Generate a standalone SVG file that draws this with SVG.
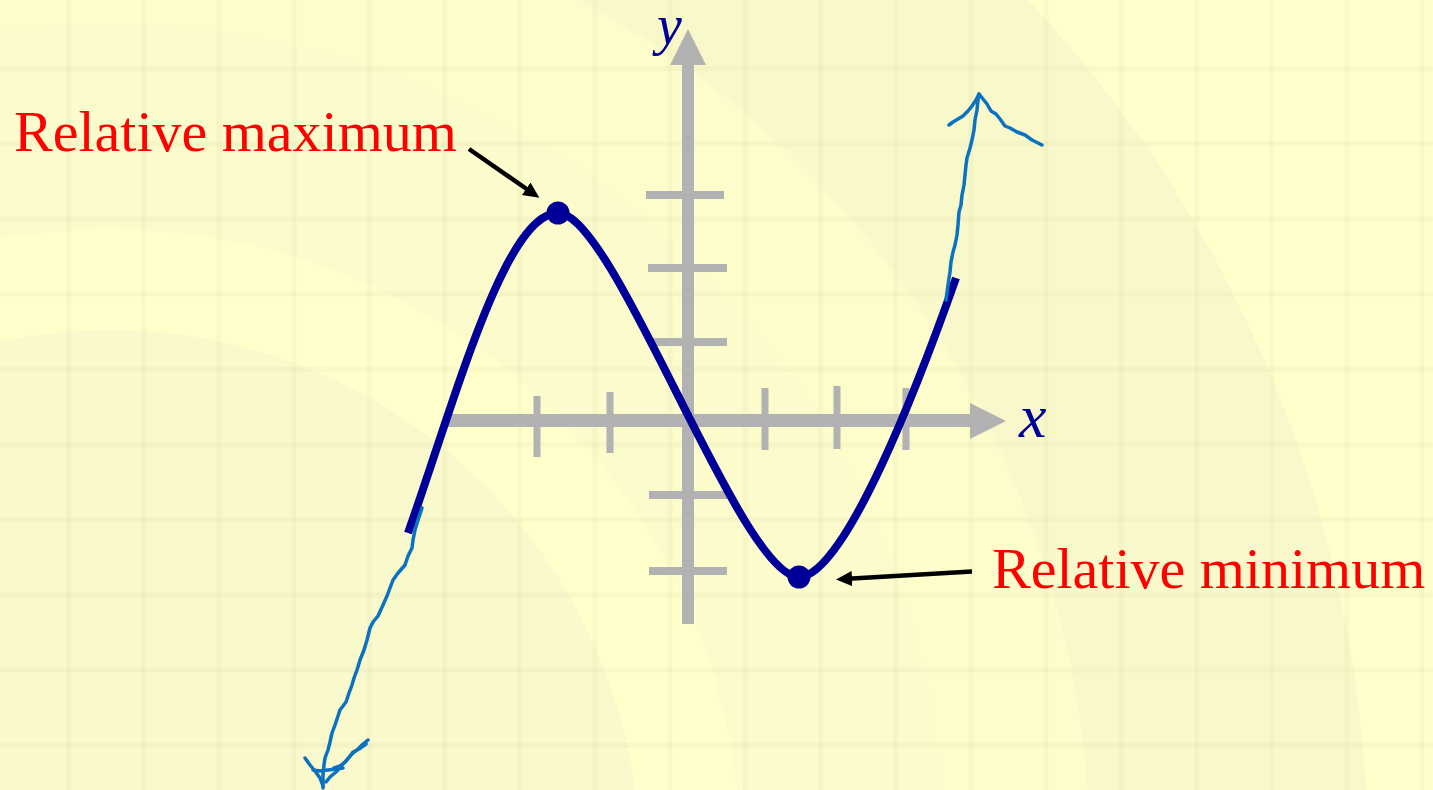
<svg xmlns="http://www.w3.org/2000/svg" width="1433" height="790" viewBox="0 0 1433 790">
  <style>
    .grid { stroke: #d8d3a0; stroke-opacity: 0.14; stroke-width: 5; fill: none; }
    .axis { fill: #b2b2b2; }
    .curve { fill: none; stroke: #000099; stroke-width: 8; stroke-linecap: butt; stroke-linejoin: round; }
    .dot { fill: #000099; }
    .label { font-family: "Liberation Serif", "Times New Roman", serif; font-size: 58px; fill: #ff0000; }
    .var { font-family: "Liberation Serif", "Times New Roman", serif; font-style: italic; fill: #000099; }
    .conn { fill: none; stroke: #000000; stroke-width: 4.5; }
    .ink { fill: none; stroke: #0a72c0; stroke-width: 3.5; stroke-linecap: round; stroke-linejoin: round; }
  </style>
  <defs>
    <marker id="head" markerUnits="userSpaceOnUse" markerWidth="16" markerHeight="16" refX="4" refY="7.5" orient="auto">
      <path d="M0,0 L16,7.5 L0,15 z" fill="#000000"/>
    </marker>
  </defs>

  <g id="background">
    <rect x="0" y="0" width="1433" height="790" fill="#ffffcc"/>
    <circle cx="110" cy="860" r="1258" fill="#f8f8ca"/>
    <circle cx="110" cy="860" r="980" fill="#fdfdcc"/>
    <circle cx="110" cy="860" r="835" fill="#fbfbcb"/>
    <circle cx="110" cy="860" r="631" fill="#ffffcc"/>
    <circle cx="110" cy="860" r="530" fill="#f9f9cb"/>
  </g>

  <g id="grid">
    <path class="grid" d="M68.5,0V790M143.7,0V790M218.9,0V790M294.1,0V790M369.3,0V790M444.5,0V790M519.7,0V790M594.9,0V790M670.1,0V790M745.3,0V790M820.5,0V790M895.7,0V790M970.9,0V790M1046.1,0V790M1121.3,0V790M1196.5,0V790M1271.7,0V790M1346.9,0V790M1422.1,0V790"/>
    <path class="grid" d="M0,68.5H1433M0,143.7H1433M0,218.9H1433M0,294.1H1433M0,369.3H1433M0,444.5H1433M0,519.7H1433M0,594.9H1433M0,670.1H1433M0,745.3H1433"/>
  </g>

  <g id="axes">
    <rect class="axis" x="446" y="414" width="526" height="13"/>
    <polygon class="axis" points="970,403 1006,421 970,439"/>
    <rect class="axis" x="682" y="60" width="12" height="564"/>
    <polygon class="axis" points="670,65 688,29 706,65"/>
    <rect class="axis" x="533.5" y="396" width="7" height="61"/>
    <rect class="axis" x="606.5" y="392" width="7" height="61"/>
    <rect class="axis" x="761.5" y="388" width="7" height="62"/>
    <rect class="axis" x="833.5" y="386" width="7" height="63"/>
    <rect class="axis" x="902.5" y="388" width="7" height="62"/>
    <rect class="axis" x="646" y="191" width="78" height="8"/>
    <rect class="axis" x="648" y="264" width="79" height="8"/>
    <rect class="axis" x="648" y="338" width="79" height="8"/>
    <rect class="axis" x="649" y="491" width="78" height="8"/>
    <rect class="axis" x="649" y="567" width="78" height="8"/>
  </g>

  <g id="axis-labels">
    <text class="var" x="657" y="44" font-size="56">y</text>
    <text class="var" x="1019" y="437" font-size="62">x</text>
  </g>

  <g id="graph">
    <path class="curve" d="M408,533 C455,400 505,213 558,213 C615,213 740,577 799,577 C845,577 920,380 956,278"/>
  </g>

  <g id="relative-maximum">
    <circle class="dot" cx="558" cy="213" r="11.5"/>
    <text class="label" x="14" y="151">Relative maximum</text>
  </g>

  <g id="relative-minimum">
    <circle class="dot" cx="799" cy="577" r="11.5"/>
    <text class="label" x="992" y="588">Relative minimum</text>
  </g>

  <g id="connectors">
    <line class="conn" x1="469" y1="149" x2="529.5" y2="191" marker-end="url(#head)"/>
    <line class="conn" x1="972" y1="571.5" x2="848" y2="578.8" marker-end="url(#head)"/>
  </g>

  <g id="ink-annotations">
    <path class="ink" d="M946,300 L948,285 L950,272 L951,262 L953,252 L955,245 L957,235 L958,225 L959,212 L961,205 L962,195 L964,185 L965,175 L966,165 L967,158 L970,148 L972,140 L974,130 L975,120 L977,110 L978,100 L979,94"/>
    <path class="ink" d="M949,125 L953,122 L958,119 L963,116 L968,111 L972,106 L976,100 L979,94 L983,99 L987,104 L991,111 L996,114 L1000,119 L1005,126 L1010,128 L1017,132 L1025,135 L1032,140 L1038,143 L1042,145"/>
    <path class="ink" d="M422,508 L418,520 L415,530 L413,540 L412,548 L408,556 L405,565 L398,573 L393,580 L390,588 L387,596 L383,605 L378,616 L373,622 L370,628 L367,640 L364,650 L360,660 L357,670 L354,678 L352,685 L349,693 L346,702 L340,710 L338,716 L335,725 L332,733 L330,742 L328,750 L325,758 L324,765 L323,775 L323,788"/>
    <path class="ink" d="M305,758 L310,765 L315,771 L320,778 L323,786"/>
    <path class="ink" d="M368,740 L362,745 L357,750 L352,754 L347,760 L342,765 L336,772 L330,777 L326,782"/>
    <path class="ink" d="M366,744 L359,749 L353,752 L350,756 L345,762 L340,766 L334,768"/>
    <path class="ink" d="M313,770 L320,771 L328,770 L336,769 L343,768"/>
  </g>
</svg>
